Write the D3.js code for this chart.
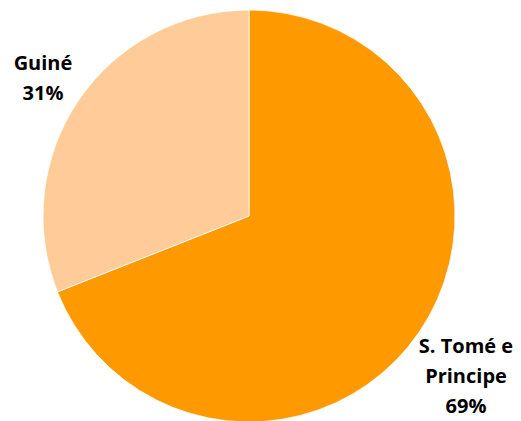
<!DOCTYPE html>
<html><head><meta charset="utf-8">
<script src="https://cdn.jsdelivr.net/npm/d3@7"></script>
<style>body{margin:0;background:#fff}svg{display:block}</style>
</head><body>
<svg id="c" width="521" height="421"></svg>
<script>
const categories = ["S. Tomé e Principe", "Guiné"];
const values = [69, 31];
const labelLines = [["S. Tomé e", "Principe", "69%"], ["Guiné", "31%"]];
const colors = ["#FF9900", "#FFCC99"];

const svg = d3.select("#c");
const cx = 249, cy = 216, r = 206;
const pie = d3.pie().sort(null).value(d => d)(values);
const arc = d3.arc().innerRadius(0).outerRadius(r);
const g = svg.append("g").attr("transform", `translate(${cx},${cy})`);
g.selectAll("path").data(pie).join("path")
  .attr("d", arc)
  .attr("fill", (d, i) => colors[i])
  .attr("stroke", "#fff").attr("stroke-width", 0.8);

const labelPos = [[466, 353], [43, 70]];
labelLines.forEach((lines, i) => {
  const t = svg.append("text")
    .attr("x", labelPos[i][0]).attr("y", labelPos[i][1])
    .attr("text-anchor", "middle")
    .attr("font-family", "'Open Sans', sans-serif")
    .attr("font-weight", "bold").attr("font-size", 20).attr("fill", "#000");
  lines.forEach((l, j) => t.append("tspan").attr("x", labelPos[i][0]).attr("dy", j === 0 ? 0 : 30).text(l));
});
</script>
</body></html>
